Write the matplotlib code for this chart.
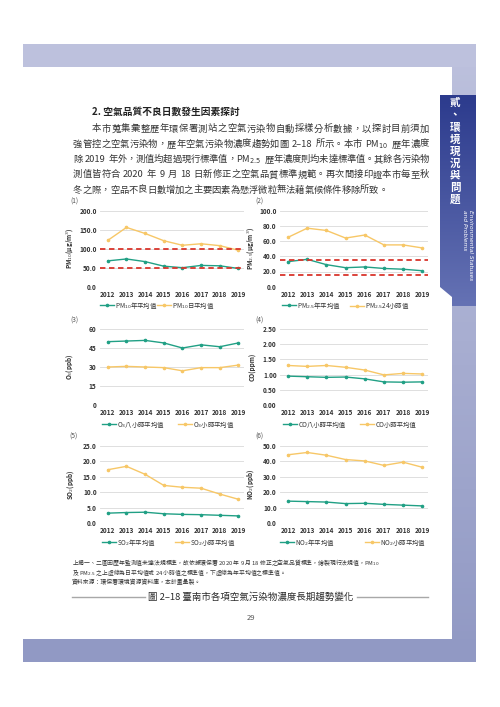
import re
import numpy as np
import matplotlib
matplotlib.use("Agg")
import matplotlib.pyplot as plt
from matplotlib.patches import Rectangle, Polygon
from matplotlib.colors import LinearSegmentedColormap

plt.rcParams['font.family'] = ['Noto Sans CJK TC', 'DejaVu Sans']
plt.rcParams['mathtext.fontset'] = 'dejavusans'

# 資料
years = ['2012', '2013', '2014', '2015', '2016', '2017', '2018', '2019']
pm10_annual = [68, 73, 66, 54, 50, 56, 55, 48]
pm10_daily = [122, 156, 140, 121, 109, 113, 108, 96]
pm10_std = [100, 50]
pm25_annual = [33, 36, 29, 25, 26, 24, 23, 21]
pm25_24h = [65, 77, 74, 64, 68, 55, 55, 51]
pm25_std = [35, 15]
o3_8h = [50, 50.5, 51, 49, 45, 47.5, 46, 49]
o3_1h = [30, 30.5, 30, 29.5, 27, 29.5, 29.5, 31.5]
co_8h = [0.95, 0.93, 0.91, 0.92, 0.86, 0.76, 0.75, 0.76]
co_1h = [1.30, 1.27, 1.30, 1.24, 1.15, 0.99, 1.04, 1.02]
so2_annual = [3.2, 3.4, 3.5, 3.0, 2.8, 2.7, 2.5, 2.3]
so2_1h = [17.3, 18.4, 15.8, 12.2, 11.6, 11.3, 9.4, 7.7]
no2_annual = [14.2, 13.9, 13.6, 12.6, 12.8, 12.1, 11.6, 11.1]
no2_1h = [44.3, 45.8, 44.0, 41.2, 40.3, 37.4, 39.5, 36.2]

heading = "2. 空氣品質不良日數發生因素探討"
para = [
    "本市蒐集彙整歷年環保署測站之空氣污染物自動採樣分析數據，以探討目前須加",
    "強管控之空氣污染物，歷年空氣污染物濃度趨勢如圖 2–18 所示。本市 PM$_{10}$ 歷年濃度",
    "除 2019 年外，測值均超過現行標準值，PM$_{2.5}$ 歷年濃度則均未達標準值。其餘各污染物",
    "測值皆符合 2020 年 9 月 18 日新修正之空氣品質標準規範。再次間接印證本市每至秋",
    "冬之際，空品不良日數增加之主要因素為懸浮微粒無法藉氣候條件移除所致。",
]
notes = [
    "上揭一、二圖因歷年監測值未達法規標準，故依據環保署 2020 年 9 月 18 修正之空氣品質標準，繪製現行法規值，PM$_{10}$",
    "及 PM$_{2.5}$ 之上虛線為日平均值或 24 小時值之標準值，下虛線為年平均值之標準值。",
    "資料來源：環保署環境資源資料庫，本計畫彙製。",
]
caption = "圖 2–18 臺南市各項空氣污染物濃度長期趨勢變化"

TEAL = '#21a085'
YELLOW = '#f7c767'
RED = '#d9352c'
TXT = '#333333'

W, H = 500, 707
fig = plt.figure(figsize=(W / 100, H / 100), dpi=100)
bg = fig.add_axes([0, 0, 1, 1])
bg.axis('off')

# 頁面色帶
band_cmap = LinearSegmentedColormap.from_list('band', ['#bdc1dd', '#9199c4'])
bg.add_patch(Rectangle((23, 44), 453, 23, color='#bdc1dd', lw=0))
bg.imshow(np.linspace(0, 1, 100).reshape(-1, 1), extent=(452, 476, 662, 44),
          cmap=band_cmap, aspect='auto', origin='upper')
bg.add_patch(Rectangle((23, 639), 453, 23, color='#9199c4', lw=0))

tab_cmap = LinearSegmentedColormap.from_list('tab', ['#2c3b8d', '#6572b4'])
tab = Polygon([(440, 95), (476, 95), (476, 306), (452, 306), (452, 297), (440, 287)],
              closed=True, facecolor='none', edgecolor='none')
bg.add_patch(tab)
im = bg.imshow(np.linspace(0, 1, 100).reshape(-1, 1), extent=(440, 476, 306, 95),
               cmap=tab_cmap, aspect='auto', origin='upper')
im.set_clip_path(tab)

side = "貳、環境現況與問題"
for i, ch in enumerate(side):
    bg.text(455, 103 + i * 12.1, ch, color='white', fontsize=7.6, fontweight='bold',
            ha='center', va='center')
bg.text(470.5, 210, "Environmental Statuses", color='white', fontsize=4.2, style='italic',
        rotation=-90, ha='center', va='top', family='DejaVu Sans')
bg.text(464.5, 210, "and Problems", color='white', fontsize=4.2, style='italic',
        rotation=-90, ha='center', va='top', family='DejaVu Sans')

bg.set_xlim(0, W)
bg.set_ylim(H, 0)

# 文字
bg.text(92, 112, heading, fontsize=7, fontweight='bold', color='#222222', va='center')

renderer = fig.canvas.get_renderer()
tok_re = re.compile(r'[A-Za-z0-9\.–]+(?:\$[^$]*\$)?|\s+|.')


def justify(line, x0, x1, y, fs, stretch=True):
    toks = tok_re.findall(line)
    widths = []
    for t in toks:
        if t.isspace():
            widths.append(fs * 100 / 72 * 0.3)
        else:
            tt = bg.text(0, 0, t, fontsize=fs)
            widths.append(tt.get_window_extent(renderer).width)
            tt.remove()
    gap = 0
    if stretch and len(toks) > 1:
        gap = (x1 - x0 - sum(widths)) / (len(toks) - 1)
    x = x0
    for t, w in zip(toks, widths):
        if not t.isspace():
            bg.text(x, y, t, fontsize=fs, color=TXT, ha='left', va='center')
        x += w + gap


fs_p = 6.7
for i, line in enumerate(para):
    x0 = 92 if i == 0 else 73
    justify(line, x0, 429, 129 + i * 15.3, fs_p, stretch=(i < len(para) - 1))

for i, line in enumerate(notes):
    bg.text(72, 563 + i * 9.5, line, fontsize=4.2, color=TXT, va='center')

bg.text(251, 597, caption, fontsize=6.8, color='#2a2a2a', ha='center', va='center')
bg.plot([72, 145], [597, 597], color='#a8a8a8', lw=1.0)
bg.plot([357, 428], [597, 597], color='#a8a8a8', lw=1.0)
bg.text(251, 618, "29", fontsize=5.5, color='#555555', ha='center', va='center')


def px_axes(x0, y0, x1, y1):
    return fig.add_axes([x0 / W, 1 - y1 / H, (x1 - x0) / W, (y1 - y0) / H])


def panel(rect, s1, s2, std, yticks, fmt, ylabel, labels, tag, tagpos, leg_x, leg_y, ylab_x):
    ax = px_axes(*rect)
    x = np.arange(len(years))
    ax.set_xlim(-0.42, 7.3)
    ax.set_ylim(yticks[0], yticks[-1])
    ax.set_yticks(yticks)
    ax.set_yticklabels([fmt.format(v) for v in yticks])
    ax.set_xticks(x)
    ax.set_xticklabels(years)
    for sp in ax.spines.values():
        sp.set_visible(False)
    ax.yaxis.grid(True, color='#d9d9d9', lw=0.6)
    ax.set_axisbelow(True)
    ax.tick_params(length=0, labelsize=4.7, labelcolor='#333333')
    ax.tick_params(axis='y', pad=2.4)
    ax.tick_params(axis='x', pad=3.0)
    for lb in ax.get_xticklabels() + ax.get_yticklabels():
        lb.set_fontweight('bold')
    l1, = ax.plot(x, s1, color=TEAL, lw=1.0, marker='o', ms=1.6, zorder=2)
    l2, = ax.plot(x, s2, color=YELLOW, lw=1.0, marker='o', ms=1.6, zorder=2)
    for v in std:
        ax.axhline(v, color=RED, lw=1.3, ls=(0, (3, 2)), zorder=3)
    ax.set_ylabel(ylabel, fontsize=4.6, fontweight='bold', color='#333333')
    ax.yaxis.set_label_coords(ylab_x, 0.5)
    bg.text(tagpos[0], tagpos[1], tag, fontsize=4.8, color='#555555', ha='center', va='center')
    for h, lab, lx in zip([l1, l2], labels, leg_x):
        fig.legend(handles=[h], labels=[lab], loc='center left', bbox_to_anchor=(lx, leg_y),
                   bbox_transform=bg.transData, frameon=False, borderpad=0, borderaxespad=0,
                   handlelength=2.2, handletextpad=0.2, numpoints=1, fontsize=4.6,
                   labelcolor='#333333')
    return ax


L = (100, 244)
R = (280, 428)
rows = [(210.7, 286.7), (329, 405), (446, 523)]

panel((L[0], rows[0][0], L[1], rows[0][1]), pm10_annual, pm10_daily, pm10_std,
      [0, 50, 100, 150, 200], '{:.1f}', 'PM$_{10}$(μg/m$^3$)',
      ['PM$_{10}$年平均值', 'PM$_{10}$日平均值'], '(1)', (74, 202), (100, 157), 305.5, -0.174)
panel((R[0], rows[0][0], R[1], rows[0][1]), pm25_annual, pm25_24h, pm25_std,
      [0, 20, 40, 60, 80, 100], '{:.1f}', 'PM$_{2.5}$(μg/m$^3$)',
      ['PM$_{2.5}$年平均值', 'PM$_{2.5}$24小時值'], '(2)', (259, 202), (282, 350), 305.5, -0.162)
panel((L[0], rows[1][0], L[1], rows[1][1]), o3_8h, o3_1h, [],
      [0, 15, 30, 45, 60], '{:.0f}', 'O$_3$(ppb)',
      ['O$_3$八小時平均值', 'O$_3$小時平均值'], '(3)', (74, 321), (102, 178), 424.5, -0.174)
panel((R[0], rows[1][0], R[1], rows[1][1]), co_8h, co_1h, [],
      [0, 0.5, 1.0, 1.5, 2.0, 2.5], '{:.2f}', 'CO(ppm)',
      ['CO八小時平均值', 'CO小時平均值'], '(4)', (259, 321), (283, 360), 424.5, -0.155)
panel((L[0], rows[2][0], L[1], rows[2][1]), so2_annual, so2_1h, [],
      [0, 5, 10, 15, 20, 25], '{:.1f}', 'SO$_2$(ppb)',
      ['SO$_2$年平均值', 'SO$_2$小時平均值'], '(5)', (74, 437), (102, 175), 542.5, -0.17)
panel((R[0], rows[2][0], R[1], rows[2][1]), no2_annual, no2_1h, [],
      [0, 10, 20, 30, 40, 50], '{:.1f}', 'NO$_2$(ppb)',
      ['NO$_2$年平均值', 'NO$_2$小時平均值'], '(6)', (259, 437), (280, 365), 542.5, -0.162)

fig.savefig('out.png', dpi=100)
